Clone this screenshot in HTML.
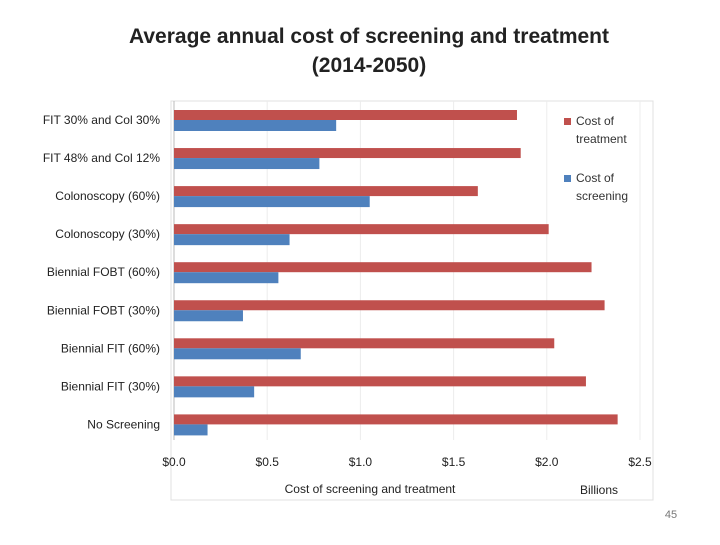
<!DOCTYPE html>
<html><head><meta charset="utf-8"><style>
body{margin:0;background:#fff;}
svg text{font-family:"Liberation Sans",sans-serif;}
</style></head><body>
<svg width="720" height="540" xmlns="http://www.w3.org/2000/svg">
<text x="369" y="43" text-anchor="middle" font-size="21" font-weight="bold" fill="#222">Average annual cost of screening and treatment</text>
<text x="369" y="72" text-anchor="middle" font-size="21" font-weight="bold" fill="#222">(2014-2050)</text>
<rect x="171" y="101" width="482" height="399" fill="none" stroke="#e0e0e0"/>
<g id="grid"></g><g id="bars"></g><g id="labels"></g>
<g>
<rect x="564" y="118" width="7" height="7" fill="#c0504d"/>
<text x="576" y="125" font-size="12" fill="#333">Cost of</text>
<text x="576" y="143" font-size="12" fill="#333">treatment</text>
<rect x="564" y="175" width="7" height="7" fill="#4f81bd"/>
<text x="576" y="182" font-size="12" fill="#333">Cost of</text>
<text x="576" y="200" font-size="12" fill="#333">screening</text>
</g>
<text x="370" y="493" text-anchor="middle" font-size="12" fill="#222">Cost of screening and treatment</text>
<text x="599" y="494" text-anchor="middle" font-size="12" fill="#222">Billions</text>
<text x="671" y="518" text-anchor="middle" font-size="11" fill="#777">45</text>
</svg>
<script>
const categories=["FIT 30% and Col 30%","FIT 48% and Col 12%","Colonoscopy (60%)","Colonoscopy (30%)","Biennial FOBT (60%)","Biennial FOBT (30%)","Biennial FIT (60%)","Biennial FIT (30%)","No Screening"];
const treatment=[1.84,1.86,1.63,2.01,2.24,2.31,2.04,2.21,2.38];
const screening=[0.87,0.78,1.05,0.62,0.56,0.37,0.68,0.43,0.18];
const ticks=[0,0.5,1,1.5,2,2.5];
const tickLabels=["$0.0","$0.5","$1.0","$1.5","$2.0","$2.5"];
const NS="http://www.w3.org/2000/svg";
const x=v=>174+v*186.4;
const yc=i=>120+i*38.05;
function mk(tag,attrs,parent,txt){const e=document.createElementNS(NS,tag);for(const k in attrs)e.setAttribute(k,attrs[k]);if(txt!=null)e.textContent=txt;document.getElementById(parent).appendChild(e);return e;}
ticks.forEach((t,i)=>{
 const l=mk('line',{x1:x(t),x2:x(t),y1:101,y2:440,stroke:i==0?'#bbb':'#ececec'},'grid');
 
 
 const tx=mk('text',{x:x(t),y:466,'text-anchor':'middle','font-size':12,fill:'#222'},'labels',tickLabels[i]);
 
 
});
categories.forEach((c,i)=>{
 const r=mk('rect',{x:x(0),y:yc(i)-10,width:x(treatment[i])-x(0),height:10,fill:'#c0504d'},'bars');
 
 
 const b=mk('rect',{x:x(0),y:yc(i),width:x(screening[i])-x(0),height:11,fill:'#4f81bd'},'bars');
 
 
 const t=mk('text',{x:160,y:yc(i)+4,'text-anchor':'end','font-size':12,fill:'#222'},'labels',c);
 
 
});
</script>
</body></html>
